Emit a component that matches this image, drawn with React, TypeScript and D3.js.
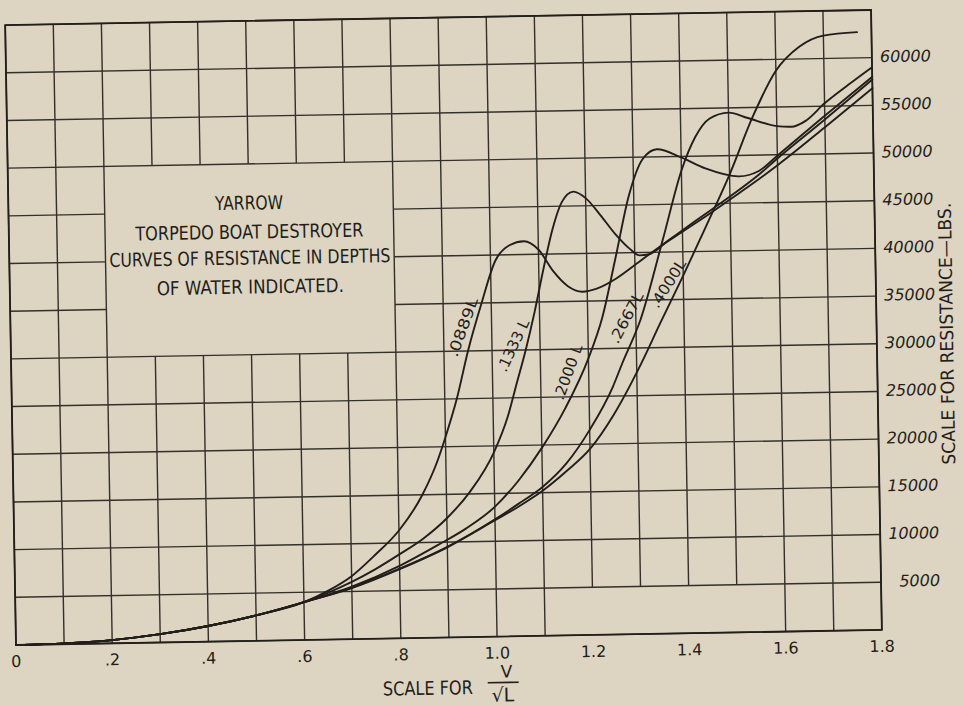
import React from 'react';
import * as d3 from 'd3';

// ---------- data ----------
const xTickValues = [0, 0.2, 0.4, 0.6, 0.8, 1.0, 1.2, 1.4, 1.6, 1.8];
const xTickLabels = ['0', '.2', '.4', '.6', '.8', '1.0', '1.2', '1.4', '1.6', '1.8'];
const yTickValues = [5000, 10000, 15000, 20000, 25000, 30000, 35000, 40000, 45000, 50000, 55000, 60000];
const yTickLabels = ['5000', '10000', '15000', '20000', '25000', '30000', '35000', '40000', '45000', '50000', '55000', '60000'];

// common low-speed part shared by all depths
const baseX = [0, 0.1, 0.2, 0.3, 0.4, 0.5, 0.6];
const baseY = [0, 80, 340, 870, 1640, 2660, 3960];

const x0889 = [0.65, 0.7, 0.75, 0.8, 0.85, 0.88, 0.9, 0.925, 0.95, 0.98, 1.01, 1.04, 1.07, 1.1, 1.13, 1.16, 1.19, 1.22, 1.26, 1.3, 1.35, 1.4, 1.45, 1.5, 1.55, 1.6, 1.7, 1.8];
const y0889 = [5100, 6600, 8800, 11300, 15000, 18200, 21000, 25000, 30000, 35000, 39400, 41000, 41400, 40500, 38200, 36600, 36000, 36300, 37300, 38700, 40500, 42100, 43700, 45400, 47100, 48900, 52800, 56800];

const x1333 = [0.65, 0.7, 0.75, 0.8, 0.85, 0.9, 0.95, 1.0, 1.03, 1.05, 1.07, 1.09, 1.11, 1.13, 1.15, 1.175, 1.2, 1.23, 1.26, 1.29, 1.31, 1.33, 1.37, 1.43, 1.5, 1.56, 1.6, 1.7, 1.8];
const y1333 = [4900, 6000, 7300, 8800, 10400, 12500, 15300, 19300, 23000, 26500, 30000, 34000, 38500, 42600, 45400, 46500, 45800, 44000, 42000, 40400, 39700, 39800, 41200, 43300, 45700, 47900, 49600, 53600, 57700];

const x2000 = [0.7, 0.8, 0.88, 0.94, 1.0, 1.05, 1.1, 1.15, 1.2, 1.23, 1.26, 1.29, 1.32, 1.35, 1.4, 1.45, 1.52, 1.56, 1.6, 1.7, 1.8];
const y2000 = [5500, 7600, 9700, 11400, 13600, 16300, 19700, 23800, 29000, 33200, 39500, 46000, 49800, 50800, 49900, 48700, 47800, 48300, 49900, 54000, 58000];

const x2667 = [0.7, 0.8, 0.9, 1.0, 1.05, 1.1, 1.15, 1.2, 1.25, 1.27, 1.31, 1.36, 1.4, 1.43, 1.46, 1.5, 1.54, 1.6, 1.63, 1.66, 1.7, 1.75, 1.8];
const y2667 = [5400, 7300, 9500, 12300, 13900, 15600, 18000, 21500, 26000, 28400, 33000, 41500, 48500, 52000, 53900, 54500, 53900, 53000, 52900, 53500, 55300, 57200, 59000];

const x4000 = [0.7, 0.8, 0.9, 1.0, 1.05, 1.1, 1.15, 1.2, 1.25, 1.31, 1.35, 1.4, 1.45, 1.5, 1.55, 1.6, 1.65, 1.7, 1.77];
const y4000 = [5350, 7250, 9450, 12200, 13600, 15200, 17200, 19500, 23000, 28400, 32500, 37500, 42700, 48000, 54000, 58800, 61300, 62400, 62700];

const curveNames = ['.0889L', '.1333 L', '.2000 L', '.2667L', '.4000L'];
const curveXs = [x0889, x1333, x2000, x2667, x4000];
const curveYs = [y0889, y1333, y2000, y2667, y4000];
// label anchor (in data units) and angle
const labelX = [0.94, 1.044, 1.157, 1.28, 1.368];
const labelY = [32500, 30500, 27600, 33200, 36700];
const labelAngle = [-69, -64, -69, -61, -57];
const labelLen = [62, 56, 58, 56, 54];

const titleLines = ['YARROW', 'TORPEDO BOAT DESTROYER', 'CURVES OF RESISTANCE IN DEPTHS', 'OF WATER INDICATED.'];
const titleLens = [68, 228, 281, 187];

// ---------- layout ----------
const W = 964, H = 706;
const LEFT = 16, RIGHT = 882, TOP = 25, BOTTOM = 645;
const PAPER = '#ddd4c2';
const INK = '#221e1a';
const FONT = '"DejaVu Sans", sans-serif';

const BOX = { x0: 0.2, x1: 0.8, y0: 30000, y1: 50000 };
const BOTTOM_GAP = { x0: 1.2, x1: 1.5, y0: 0, y1: 5000 };

export default function App() {
  const x = d3.scaleLinear().domain([0, 1.8]).range([LEFT, RIGHT]);
  const y = d3.scaleLinear().domain([0, 65000]).range([BOTTOM, TOP]);

  const line = d3
    .line<[number, number]>()
    .x((d) => x(d[0]))
    .y((d) => y(d[1]))
    .curve(d3.curveMonotoneX);

  const eps = 1e-6;
  // vertical grid segments
  const vSegs: [number, number, number][] = [];
  d3.range(0, 19).forEach((i) => {
    const xv = i / 10;
    let cuts: [number, number][] = [];
    if (xv > BOX.x0 + eps && xv < BOX.x1 - eps) cuts.push([BOX.y0, BOX.y1]);
    if (xv > BOTTOM_GAP.x0 - eps && xv < BOTTOM_GAP.x1 + eps) cuts.push([BOTTOM_GAP.y0, BOTTOM_GAP.y1]);
    cuts.sort((a, b) => a[0] - b[0]);
    let start = 0;
    cuts.forEach(([a, b]) => {
      if (a > start) vSegs.push([xv, start, a]);
      start = b;
    });
    if (start < 65000) vSegs.push([xv, start, 65000]);
  });
  const hSegs: [number, number, number][] = [];
  d3.range(0, 14).forEach((j) => {
    const yv = j * 5000;
    if (yv > BOX.y0 + eps && yv < BOX.y1 - eps) {
      hSegs.push([yv, 0, BOX.x0]);
      hSegs.push([yv, BOX.x1, 1.8]);
    } else hSegs.push([yv, 0, 1.8]);
  });

  const boxCx = x((BOX.x0 + BOX.x1) / 2);
  const titleYs = [207, 236, 262, 291];

  return (
    <svg
      width={W}
      height={H}
      viewBox={`0 0 ${W} ${H}`}
      style={{ position: 'fixed', left: 0, top: 0, background: PAPER }}
    >
      <rect x={0} y={0} width={W} height={H} fill={PAPER} />
      <g transform={`rotate(-1 ${LEFT} ${BOTTOM})`}>
        {/* grid */}
        <g stroke={INK} strokeWidth={1.4} opacity={0.9}>
          {vSegs.map(([xv, a, b], i) => (
            <line key={'v' + i} x1={x(xv)} x2={x(xv)} y1={y(a)} y2={y(b)} />
          ))}
          {hSegs.map(([yv, a, b], i) => (
            <line key={'h' + i} x1={x(a)} x2={x(b)} y1={y(yv)} y2={y(yv)} />
          ))}
        </g>
        <rect x={LEFT} y={TOP} width={RIGHT - LEFT} height={BOTTOM - TOP} fill="none" stroke={INK} strokeWidth={1.8} />

        {/* curves */}
        <g fill="none" stroke={INK} strokeWidth={1.9} strokeLinejoin="round" strokeLinecap="round">
          {curveXs.map((xs, k) => {
            const pts: [number, number][] = baseX
              .map((v, i) => [v, baseY[i]] as [number, number])
              .concat(xs.map((v, i) => [v, curveYs[k][i]] as [number, number]));
            return <path key={k} d={line(pts) || ''} />;
          })}
        </g>

        {/* curve labels */}
        <g fill={INK} fontFamily={FONT} fontSize={15}>
          {curveNames.map((n, k) => (
            <text
              key={n}
              transform={`translate(${x(labelX[k])},${y(labelY[k])}) rotate(${labelAngle[k]})`}
              textAnchor="middle"
              dy="0.35em"
              textLength={labelLen[k]}
              lengthAdjust="spacingAndGlyphs"
            >
              {n}
            </text>
          ))}
        </g>

        {/* title box text */}
        <g fill={INK} fontFamily={FONT} fontSize={19} textAnchor="middle">
          {titleLines.map((t, i) => (
            <text key={t} x={boxCx} y={titleYs[i]} dy="0.35em" textLength={titleLens[i]} lengthAdjust="spacingAndGlyphs">
              {t}
            </text>
          ))}
        </g>

        {/* x tick labels */}
        <g fill={INK} fontFamily={FONT} fontSize={16} textAnchor="middle">
          {xTickValues.map((v, i) => (
            <text key={v} x={x(v)} y={BOTTOM + 22}>
              {xTickLabels[i]}
            </text>
          ))}
        </g>

        {/* y tick labels */}
        <g fill={INK} fontFamily={FONT} fontSize={16} textAnchor="end" fontStyle="italic">
          {yTickValues.map((v, i) => (
            <text key={v} x={941} y={y(v) - 1} dy="0.35em">
              {yTickLabels[i]}
            </text>
          ))}
        </g>

        {/* right axis title */}
        <text
          transform={`translate(952,350) rotate(-90)`}
          textAnchor="middle"
          dy="0.35em"
          fill={INK}
          fontFamily={FONT}
          fontSize={18}
          textLength={262}
          lengthAdjust="spacingAndGlyphs"
        >
          SCALE FOR RESISTANCE—LBS.
        </text>

        {/* x axis title */}
        <g fill={INK} fontFamily={FONT}>
          <text x={427} y={702} textAnchor="middle" fontSize={19} textLength={90} lengthAdjust="spacingAndGlyphs">
            SCALE FOR
          </text>
          <text x={506} y={686} textAnchor="middle" fontSize={17}>
            V
          </text>
          <line x1={487} x2={518} y1={691} y2={691} stroke={INK} strokeWidth={1.6} />
          <text x={502} y={710} textAnchor="middle" fontSize={19}>
            √L
          </text>
        </g>
      </g>
    </svg>
  );
}
